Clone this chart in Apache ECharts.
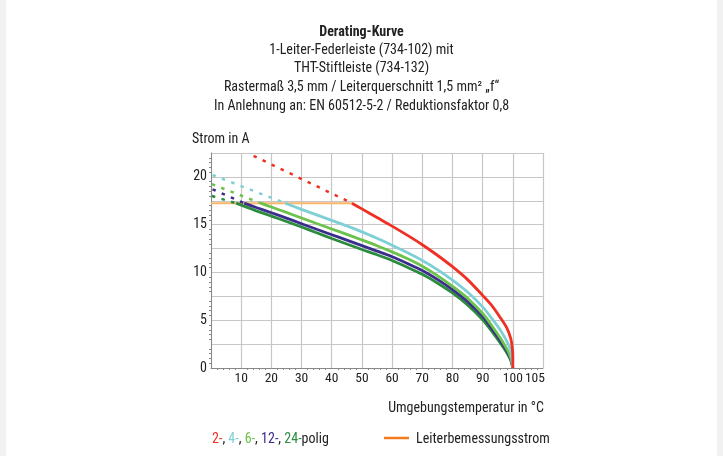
<!DOCTYPE html>
<html>
<head>
<meta charset="utf-8">
<script src="https://cdn.jsdelivr.net/npm/echarts@6/dist/echarts.min.js"></script>
<style>
html,body{margin:0;padding:0;background:#fff;}
#c{width:723px;height:456px;}
</style>
</head>
<body>
<div id="c"></div>
<script>
// ---- data ----
var titleLines = [
  'Derating-Kurve',
  '1-Leiter-Federleiste (734-102) mit',
  'THT-Stiftleiste (734-132)',
  'Rastermaß 3,5 mm / Leiterquerschnitt 1,5 mm² „f“',
  'In Anlehnung an: EN 60512-5-2 / Reduktionsfaktor 0,8'
];
var yAxisTitle = 'Strom in A';
var xAxisTitle = 'Umgebungstemperatur in °C';
var xTickLabels = [10, 20, 30, 40, 50, 60, 70, 80, 90, 100, 105];
var yTickLabels = [0, 5, 10, 15, 20];
var ratedCurrent = 17.25;

// solid derating curves [temperature, current]
var red2T   = [46.7, 50, 55, 60, 65, 70, 75, 80, 85, 90, 93, 96, 98, 99.3, 99.8, 100, 100];
var red2I   = [17.25, 16.65, 15.75, 14.85, 13.9, 12.9, 11.8, 10.6, 9.25, 7.6, 6.55, 5.2, 4.2, 3.1, 2.2, 1.2, 0];
var cyan4T  = [24.6, 30, 35, 40, 45, 50, 55, 60, 65, 70, 75, 80, 85, 90, 93, 96, 98, 99.3, 100];
var cyan4I  = [17.25, 16.6, 16.03, 15.45, 14.87, 14.25, 13.57, 12.85, 12.08, 11.25, 10.3, 9.2, 7.95, 6.4, 5.2, 3.9, 2.8, 1.8, 0];
var green6T = [16.4, 20, 25, 30, 35, 40, 45, 50, 55, 60, 65, 70, 75, 80, 85, 90, 93, 96, 98, 99.3, 100];
var green6I = [17.25, 16.85, 16.28, 15.7, 15.12, 14.55, 13.98, 13.4, 12.8, 12.15, 11.45, 10.65, 9.67, 8.55, 7.3, 5.7, 4.45, 3.05, 2.0, 1.1, 0];
var blue12T = [11, 15, 20, 25, 30, 35, 40, 45, 50, 55, 60, 65, 70, 75, 80, 85, 90, 93, 96, 98, 99.3, 100];
var blue12I = [17.25, 16.8, 16.25, 15.68, 15.1, 14.52, 13.95, 13.38, 12.8, 12.23, 11.65, 10.95, 10.2, 9.27, 8.2, 6.95, 5.4, 4.15, 2.8, 1.8, 0.95, 0];
var dk24T   = [8.3, 15, 20, 25, 30, 35, 40, 45, 50, 55, 60, 65, 70, 75, 80, 85, 90, 93, 96, 98, 99.3, 100];
var dk24I   = [17.25, 16.45, 15.9, 15.33, 14.75, 14.15, 13.55, 12.98, 12.4, 11.85, 11.25, 10.55, 9.8, 8.9, 7.85, 6.6, 5.05, 3.85, 2.55, 1.6, 0.8, 0];

// dashed extensions above rated current [temperature, current]
var red2DashT   = [14.1, 46.7];
var red2DashI   = [22.2, 17.25];
var cyan4DashT  = [0.5, 24.6];
var cyan4DashI  = [20.2, 17.25];
var green6DashT = [0.3, 16.4];
var green6DashI = [19.25, 17.25];
var blue12DashT = [0.5, 11];
var blue12DashI = [18.7, 17.25];
var dk24DashT   = [0.3, 8.3];
var dk24DashI   = [18.0, 17.25];
var ratedT = [0, 46.7];

// ---- build ----
function pts(T, I){ return T.map(function(t,i){ return [t, I[i]]; }); }
var FONT = '"Roboto Condensed","Liberation Sans Narrow","DejaVu Sans Condensed",Roboto,sans-serif';
var C = {red:'#ee3124', cyan:'#7fd0d6', green:'#6cc24a', blue:'#3a2d8c', dk:'#2a8c3c', orange:'#f9b56a', orangeLeg:'#f47b20'};

function solid(name, data, color, z){
  return {name:name, type:'line', data:data, smooth:0.3, symbol:'none', z:z||3,
    lineStyle:{color:color, width:2.8}, xAxisIndex:0, yAxisIndex:0, animation:false};
}
function dashed(name, data, color){
  return {name:name, type:'line', data:data, symbol:'none', z:3,
    lineStyle:{color:color, width:2.5, type:[3.5,6.5]}, xAxisIndex:0, yAxisIndex:0, animation:false};
}

var graphics = [];
var ty = [31, 49, 67, 86, 105];
titleLines.forEach(function(t, i){
  graphics.push({type:'text', left:'center', top: ty[i]-6, style:{text:t, font:(i===0?'bold ':'')+'14px '+FONT, fill:'#222'}});
});
graphics.push({type:'text', x:192, y:139, style:{text:yAxisTitle, font:'14px '+FONT, fill:'#222', verticalAlign:'middle'}});
graphics.push({type:'text', x:544, y:408, style:{text:xAxisTitle, font:'14px '+FONT, fill:'#222', align:'right', verticalAlign:'middle'}});
graphics.push({type:'text', x:212, y:439, style:{
  text:'{r|2-}{k|, }{c|4-}{k|, }{g|6-}{k|, }{b|12-}{k|, }{d|24-}{k|polig}',
  verticalAlign:'middle',
  rich:{
    r:{fill:C.red, font:'14px '+FONT}, c:{fill:C.cyan, font:'14px '+FONT}, g:{fill:C.green, font:'14px '+FONT},
    b:{fill:C.blue, font:'14px '+FONT}, d:{fill:C.dk, font:'14px '+FONT}, k:{fill:'#222', font:'14px '+FONT}
  }}});
graphics.push({type:'line', shape:{x1:384, y1:438, x2:409, y2:438}, style:{stroke:C.orangeLeg, lineWidth:2.5}});
graphics.push({type:'text', x:416, y:439, style:{text:'Leiterbemessungsstrom', font:'14px '+FONT, fill:'#222', verticalAlign:'middle'}});
graphics.push({type:'rect', shape:{x:0,y:0,width:6,height:456}, style:{fill:'#f1f1f1'}, z:-1});
graphics.push({type:'rect', shape:{x:717,y:0,width:6,height:456}, style:{fill:'#f1f1f1'}, z:-1});

var option = {
  backgroundColor:'#fff',
  animation:false,
  grid:{left:211, right:180, top:153, bottom:88, containLabel:false},
  xAxis:[
    {type:'value', min:0, max:110, interval:5,
      axisLine:{show:true, lineStyle:{color:'#888', width:1}},
      axisTick:{show:false}, splitLine:{show:false},
      axisLabel:{color:'#222', fontFamily:FONT, fontSize:13.5, margin:4,
        rich:{s:{padding:[0,0,0,14], fontFamily:FONT, fontSize:13.5, color:'#222'}},
        formatter:function(v){
          if (v === 105) return '{s|105}';
          return xTickLabels.indexOf(v) >= 0 ? String(v) : '';
        }}},
    {type:'value', min:0, max:110, interval:10, position:'bottom',
      axisLine:{show:false}, axisLabel:{show:false},
      axisTick:{show:false},
      minorTick:{show:true, splitNumber:5, length:2, lineStyle:{color:'#888'}},
      splitLine:{show:true, lineStyle:{color:'#c6c6c6', width:1.2}}}
  ],
  yAxis:[{type:'value', min:0, max:22.5, interval:2.5,
    axisLine:{show:true, lineStyle:{color:'#888', width:1}},
    axisTick:{show:false},
    minorTick:{show:true, splitNumber:5, length:2, lineStyle:{color:'#888'}},
    splitLine:{show:true, lineStyle:{color:'#c6c6c6', width:1.2}},
    axisLabel:{color:'#222', fontFamily:FONT, fontSize:14, margin:4,
      formatter:function(v){ return yTickLabels.indexOf(v) >= 0 ? String(v) : ''; }}}],
  graphic: graphics,
  series:[
    {name:'Leiterbemessungsstrom', type:'line', data:ratedT.map(function(t){return [t, ratedCurrent];}),
      symbol:'none', z:2, lineStyle:{color:C.orange, width:2}, animation:false},
    dashed('2d', pts(red2DashT, red2DashI), C.red),
    dashed('4d', pts(cyan4DashT, cyan4DashI), C.cyan),
    dashed('6d', pts(green6DashT, green6DashI), C.green),
    dashed('12d', pts(blue12DashT, blue12DashI), C.blue),
    dashed('24d', pts(dk24DashT, dk24DashI), C.dk),
    solid('24', pts(dk24T, dk24I), C.dk, 3),
    solid('12', pts(blue12T, blue12I), C.blue, 4),
    solid('6', pts(green6T, green6I), C.green, 5),
    solid('4', pts(cyan4T, cyan4I), C.cyan, 6),
    solid('2', pts(red2T, red2I), C.red, 7)
  ]
};
var chart = echarts.init(document.getElementById('c'), null, {renderer:'canvas'});
chart.setOption(option);
</script>
</body>
</html>
